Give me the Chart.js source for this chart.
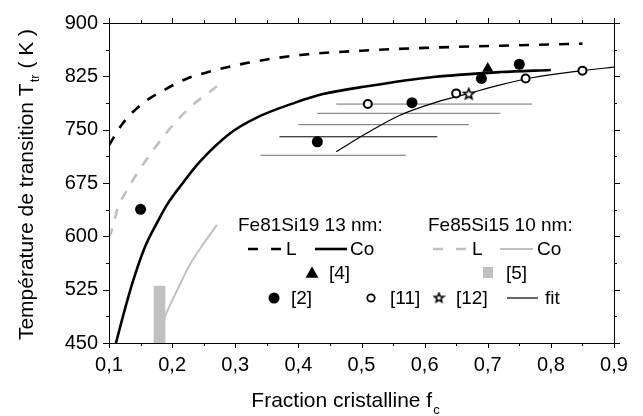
<!DOCTYPE html>
<html>
<head>
<meta charset="utf-8">
<script src="https://cdn.jsdelivr.net/npm/chart.js@4.4.0/dist/chart.umd.min.js"></script>
<style>
  html, body { margin: 0; padding: 0; background: #fff; }
</style>
</head>
<body>
<canvas id="chart" width="643" height="416"></canvas>
<script>
// model curves [fc, T]
const lFe81 = [[0.1,728],[0.122,759],[0.152,786],[0.192,808],[0.224,822],[0.257,831],[0.32,844],[0.403,855],[0.5,861],[0.6,865],[0.72,868],[0.85,871]];
const coFe81 = [[0.111,450],[0.125,497],[0.138,537],[0.156,583],[0.176,619],[0.193,646],[0.216,674],[0.244,705],[0.292,745],[0.334,767],[0.395,788],[0.439,800],[0.509,811],[0.614,824],[0.72,831],[0.8,834]];
const lFe85 = [[0.1,598],[0.105,610],[0.114,640],[0.128,664],[0.147,692],[0.165,715],[0.197,752],[0.228,781],[0.271,811]];
const coFe85 = [[0.172,450],[0.19,490],[0.21,528],[0.228,560],[0.25,590],[0.271,616]];
const fitLine = [[0.46,719],[0.51,746],[0.56,770],[0.62,789],[0.67,801],[0.72,813],[0.77,823],[0.85,833],[0.9,838]];

// measured points
const ref2 = [[0.15,638],[0.43,733],[0.58,788],[0.69,822],[0.75,842]];
const ref4 = [[0.70,836]];
const ref11 = [[0.51,786],[0.65,801],[0.76,822],[0.85,833]];
const ref12 = [[0.67,800]];
const ref5 = {x: 0.18, lo: 450, hi: 530};

// horizontal bars
const errY = [786, 773, 757, 740, 714];
const errLo = [0.46, 0.43, 0.40, 0.37, 0.34];
const errHi = [0.77, 0.72, 0.67, 0.62, 0.57];
const errColor = ['#6e6e6e', '#6e6e6e', '#6e6e6e', '#000', '#6e6e6e'];

const GRAY = '#c0c0c0';
const FONT = '"Liberation Sans", Arial, sans-serif';

const pts = arr => arr.map(p => ({x: p[0], y: p[1]}));

function makeStar(r, lw) {
  const c = document.createElement('canvas');
  const s = Math.ceil(2 * r + 2 * lw);
  c.width = c.height = s;
  const g = c.getContext('2d');
  g.beginPath();
  for (let i = 0; i < 10; i++) {
    const ang = -Math.PI / 2 + i * Math.PI / 5;
    const rr = i % 2 ? r * 0.45 : r;
    g.lineTo(s / 2 + rr * Math.cos(ang), s / 2 + rr * Math.sin(ang));
  }
  g.closePath();
  g.fillStyle = '#fff';
  g.fill();
  g.lineWidth = lw;
  g.strokeStyle = '#000';
  g.stroke();
  return c;
}
const star = makeStar(5.5, 1.6);

function curve(data, color, width, dash) {
  return {
    type: 'line', data: pts(data), borderColor: color, borderWidth: width,
    borderDash: dash || [], pointRadius: 0, cubicInterpolationMode: 'monotone',
    fill: false
  };
}

const datasets = [
  {type: 'scatter', data: pts(ref12), pointStyle: star, pointRadius: 6},
  {type: 'scatter', data: pts(ref11), pointStyle: 'circle', pointRadius: 4,
    backgroundColor: '#fff', borderColor: '#000', borderWidth: 2},
  {type: 'scatter', data: pts(ref2), pointStyle: 'circle', pointRadius: 5.5,
    backgroundColor: '#000', borderWidth: 0},
  {type: 'scatter', data: pts(ref4), pointStyle: 'triangle', pointRadius: 6.5,
    backgroundColor: '#000', borderWidth: 0},
  {type: 'bar', data: [{x: ref5.x, y: [ref5.lo, ref5.hi]}], backgroundColor: GRAY,
    barThickness: 11, borderWidth: 0},
  curve(fitLine, '#000', 1.2),
  curve(coFe81, '#000', 2.6),
  curve(lFe81, '#000', 2.6, [10, 10]),
  curve(coFe85, GRAY, 2),
  curve(lFe85, GRAY, 2.6, [10, 10])
];
errY.forEach((v, i) => {
  datasets.push({type: 'line', data: [{x: errLo[i], y: v}, {x: errHi[i], y: v}],
    borderColor: errColor[i], borderWidth: 1, pointRadius: 0});
});

function textWithSub(ctx, main, sub, tail, size, subSize, subDy) {
  // returns total width and draws starting at 0,0 (baseline)
  ctx.font = size + 'px ' + FONT;
  const w1 = ctx.measureText(main).width;
  ctx.font = subSize + 'px ' + FONT;
  const w2 = ctx.measureText(sub).width;
  ctx.font = size + 'px ' + FONT;
  const w3 = tail ? ctx.measureText(tail).width : 0;
  return {w: w1 + w2 + w3, draw(x0, y0) {
    ctx.font = size + 'px ' + FONT;
    ctx.fillText(main, x0, y0);
    ctx.font = subSize + 'px ' + FONT;
    ctx.fillText(sub, x0 + w1 + 1, y0 + subDy);
    if (tail) {
      ctx.font = size + 'px ' + FONT;
      ctx.fillText(tail, x0 + w1 + w2 + 1, y0);
    }
  }};
}

const frame = {
  id: 'frame',
  afterDraw(chart) {
    const {ctx, chartArea: a} = chart;
    const sx = chart.scales.x, sy = chart.scales.y;
    ctx.save();
    ctx.strokeStyle = '#000';
    ctx.lineWidth = 1;
    ctx.strokeRect(a.left + 0.5, a.top + 0.5, a.right - a.left, a.bottom - a.top);
    ctx.beginPath();
    for (let i = 0; i <= 16; i++) {
      const px = Math.round(sx.getPixelForValue(0.1 + i * 0.05)) + 0.5;
      const len = i % 2 ? 3 : 5;
      ctx.moveTo(px, a.bottom); ctx.lineTo(px, a.bottom + len);
      ctx.moveTo(px, a.top); ctx.lineTo(px, a.top - len);
    }
    for (let i = 0; i <= 12; i++) {
      const py = Math.round(sy.getPixelForValue(450 + i * 37.5)) + 0.5;
      const len = i % 2 ? 3 : 6;
      ctx.moveTo(a.left, py); ctx.lineTo(a.left - len, py);
      ctx.moveTo(a.right, py); ctx.lineTo(a.right + len, py);
    }
    ctx.stroke();

    ctx.fillStyle = '#000';
    ctx.textBaseline = 'alphabetic';
    ctx.textAlign = 'left';
    // x title
    const xt = textWithSub(ctx, 'Fraction cristalline f', 'c', '', 21, 13, 7);
    xt.draw(345 - xt.w / 2, 407);
    // y title
    ctx.save();
    ctx.translate(33, 185);
    ctx.rotate(-Math.PI / 2);
    const yt = textWithSub(ctx, 'Température de transition T', 'tr', ' ( K )', 21, 13, 6);
    yt.draw(-yt.w / 2, 0);
    ctx.restore();

    // legend
    ctx.font = '19px ' + FONT;
    ctx.fillText('Fe81Si19 13 nm:', 238, 231);
    ctx.fillText('Fe85Si15 10 nm:', 428, 231);
    const r2 = 255, r3 = 279, r4 = 304;
    ctx.fillText('L', 286, r2);
    ctx.fillText('Co', 350, r2);
    ctx.fillText('L', 472, r2);
    ctx.fillText('Co', 537, r2);
    ctx.fillText('[4]', 329, r3);
    ctx.fillText('[5]', 506, r3);
    ctx.fillText('[2]', 291, r4);
    ctx.fillText('[11]', 390, r4);
    ctx.fillText('[12]', 456, r4);
    ctx.fillText('fit', 545, r4);

    const seg = (x1, x2, y, color, w, dash) => {
      ctx.beginPath();
      ctx.setLineDash(dash || []);
      ctx.strokeStyle = color;
      ctx.lineWidth = w;
      ctx.moveTo(x1, y); ctx.lineTo(x2, y);
      ctx.stroke();
      ctx.setLineDash([]);
    };
    seg(248, 281, r2 - 6, '#000', 2.6, [10, 13]);
    seg(315, 347, r2 - 6, '#000', 2.6);
    seg(433, 466, r2 - 6, GRAY, 2.6, [10, 13]);
    seg(500, 533, r2 - 6, GRAY, 2);
    seg(507, 538, r4 - 6, '#000', 1.2);

    // triangle
    const tr = 7.5, tx = 312, ty = r3 - 5;
    ctx.beginPath();
    ctx.moveTo(tx, ty - tr);
    ctx.lineTo(tx + tr * 0.866, ty + tr / 2);
    ctx.lineTo(tx - tr * 0.866, ty + tr / 2);
    ctx.closePath();
    ctx.fillStyle = '#000';
    ctx.fill();
    // square
    ctx.fillStyle = GRAY;
    ctx.fillRect(483, r3 - 12, 10, 11);
    // filled circle
    ctx.fillStyle = '#000';
    ctx.beginPath();
    ctx.arc(274, r4 - 6, 5.5, 0, Math.PI * 2);
    ctx.fill();
    // open circle
    ctx.beginPath();
    ctx.arc(371, r4 - 6, 3.7, 0, Math.PI * 2);
    ctx.fillStyle = '#fff';
    ctx.fill();
    ctx.lineWidth = 1.8;
    ctx.strokeStyle = '#000';
    ctx.stroke();
    // star
    ctx.drawImage(makeStar(4.8, 1.6), 439 - 6.5, r4 - 6 - 6.5);
    ctx.restore();
  }
};

new Chart(document.getElementById('chart'), {
  type: 'scatter',
  data: {datasets},
  options: {
    responsive: false,
    animation: false,
    events: [],
    layout: {padding: {left: 0, top: 15, right: 29, bottom: 0}},
    plugins: {legend: {display: false}, tooltip: {enabled: false}},
    scales: {
      x: {
        type: 'linear', min: 0.1, max: 0.9, offset: false,
        grid: {display: false, drawTicks: false},
        border: {display: false},
        afterFit: s => { s.height = 73; },
        ticks: {
          stepSize: 0.1, padding: 10, color: '#000', maxRotation: 0,
          font: {family: FONT, size: 20},
          callback: v => v.toFixed(1).replace('.', ',')
        }
      },
      y: {
        type: 'linear', min: 450, max: 900,
        grid: {display: false, drawTicks: false},
        border: {display: false},
        afterFit: s => { s.width = 109; },
        ticks: {
          stepSize: 75, padding: 11, color: '#000',
          font: {family: FONT, size: 20}
        }
      }
    }
  },
  plugins: [frame]
});
</script>
</body>
</html>
